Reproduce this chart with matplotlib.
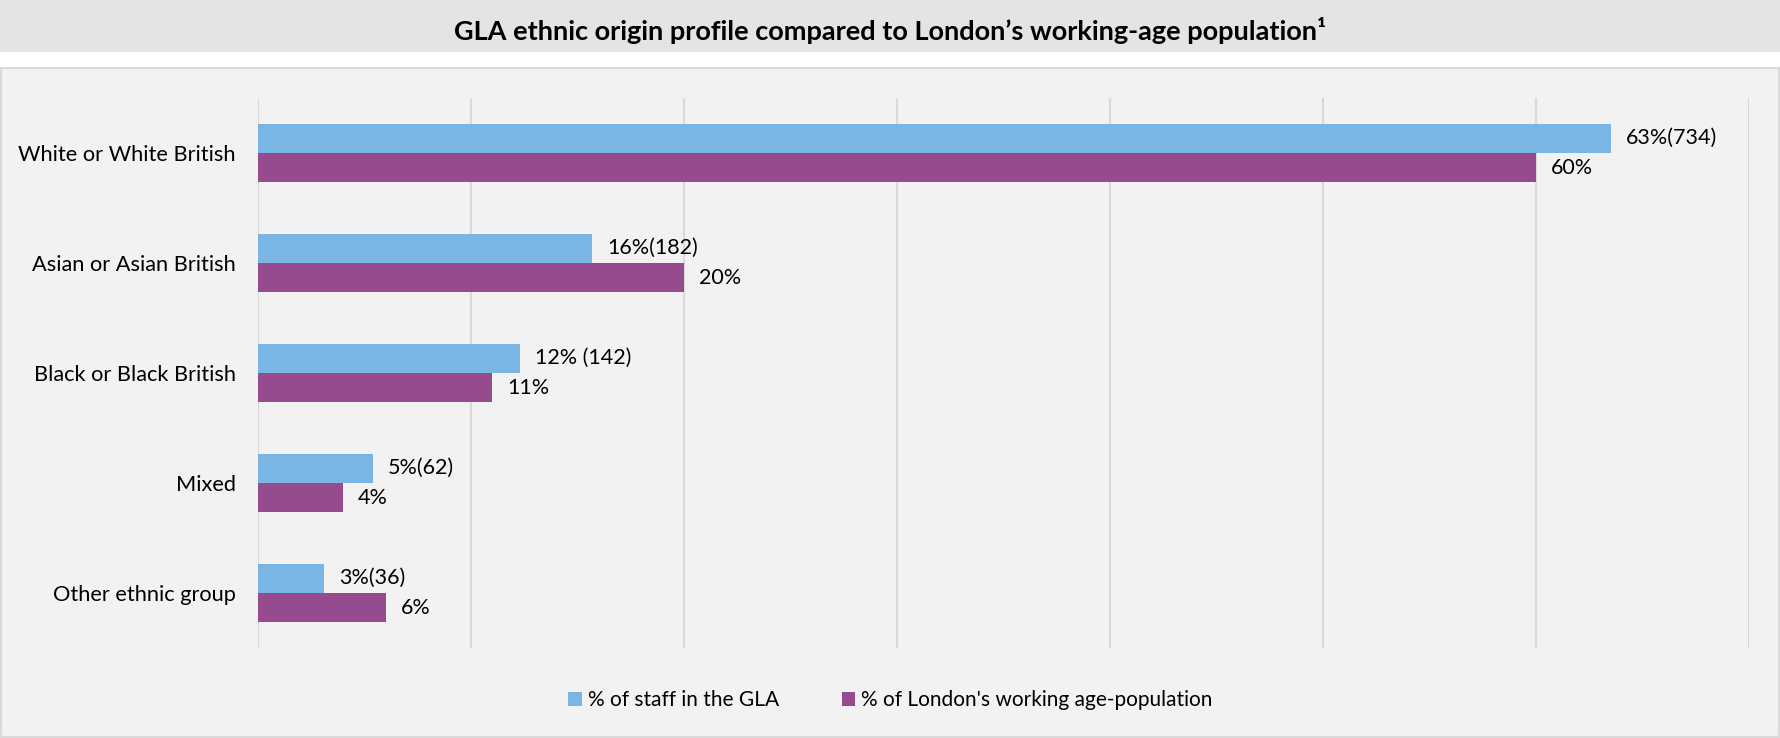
import matplotlib.pyplot as plt
from matplotlib.patches import Rectangle
import numpy as np

plt.rcParams['font.family'] = ['Lato', 'DejaVu Sans']

# data
categories = ["White or White British", "Asian or Asian British", "Black or Black British",
              "Mixed", "Other ethnic group"]
staff_pct = [63.5, 15.7, 12.3, 5.4, 3.1]
london_pct = [60, 20, 11, 4, 6]
staff_labels = ["63%(734)", "16%(182)", "12% (142)", "5%(62)", "3%(36)"]
london_labels = ["60%", "20%", "11%", "4%", "6%"]
series_names = ["% of staff in the GLA", "% of London's working age-population"]

blue = "#7bb5e4"
purple = "#974b8f"

W, H = 1781, 738
fig = plt.figure(figsize=(W / 100, H / 100), dpi=100)
fig.patch.set_facecolor("white")

# title band and chart area box
fig.patches.append(Rectangle((0, 1 - 52 / H), 1, 52 / H, transform=fig.transFigure,
                             facecolor="#e4e4e4", edgecolor="none", zorder=-5))
fig.patches.append(Rectangle((1 / W, 1 / H), 1 - 3 / W, (H - 69) / H, transform=fig.transFigure,
                             facecolor="#f2f2f2", edgecolor="#d9d9d9", linewidth=1.5, zorder=-5))

fig.text(0.5, 1 - 31 / H, "GLA ethnic origin profile compared to London\u2019s working-age population\u00b9",
         ha="center", va="center", fontsize=19.5, fontweight="bold", color="black")

ax = fig.add_axes([258 / W, 1 - 648 / H, (1749 - 258) / W, (648 - 98) / H])
ax.set_facecolor("none")
ax.set_zorder(2)

y = np.arange(len(categories))
h = 0.268
b1 = ax.barh(y - h / 2, staff_pct, height=h, color=blue, label=series_names[0], zorder=2)
b2 = ax.barh(y + h / 2, london_pct, height=h, color=purple, label=series_names[1], zorder=2)

for rect, lab in zip(b1, staff_labels):
    ax.annotate(lab, (rect.get_width(), rect.get_y() + rect.get_height() / 2),
                xytext=(15, 0), textcoords="offset pixels", va="center", ha="left", fontsize=15.5)
for rect, lab in zip(b2, london_labels):
    ax.annotate(lab, (rect.get_width(), rect.get_y() + rect.get_height() / 2),
                xytext=(15, 0), textcoords="offset pixels", va="center", ha="left", fontsize=15.5)

ax.set_xlim(0, 70)
ax.set_ylim(len(categories) - 0.5, -0.5)
ax.set_xticks(np.arange(0, 71, 10))
ax.set_xticklabels([])
ax.set_yticks(y)
ax.set_yticklabels(categories, fontsize=15.7)
ax.tick_params(axis="both", length=0)
ax.tick_params(axis="y", pad=16)
ax.grid(axis="x", color="#d9d9d9", linewidth=1.5, zorder=0)
for s in ax.spines.values():
    s.set_visible(False)

fig.legend(handles=[b1, b2], labels=series_names, loc="center", bbox_to_anchor=(0.5, 1 - 700 / H),
           ncol=2, frameon=False, fontsize=15, handlelength=0.65, handleheight=0.65,
           handletextpad=0.3, columnspacing=3.0)

fig.savefig("out.png", dpi=100, facecolor=fig.get_facecolor())
